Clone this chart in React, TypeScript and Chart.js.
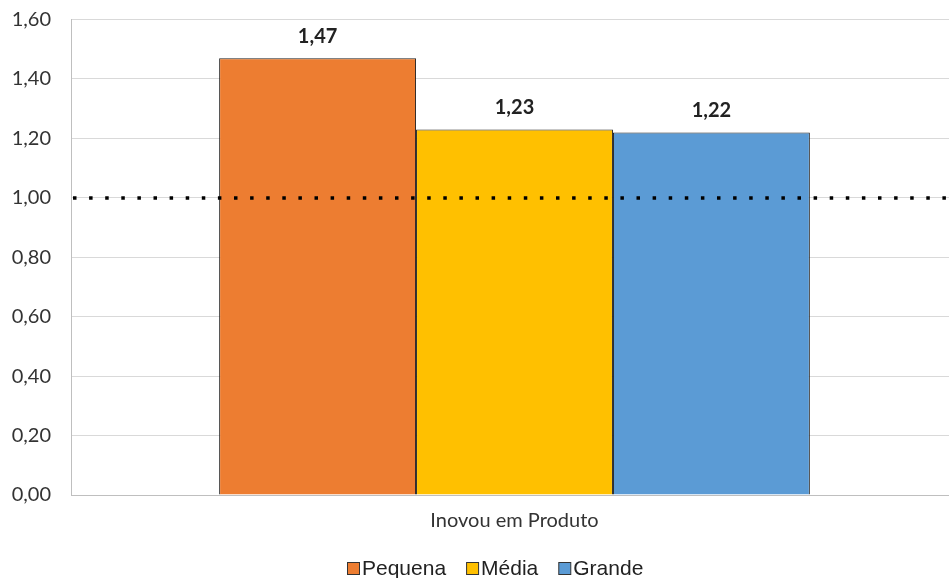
import React, { useEffect, useRef } from "react";
import { Chart, registerables } from "chart.js";

Chart.register(...registerables);

const categories = ["Inovou em Produto"];
const seriesNames = ["Pequena", "Média", "Grande"];
const seriesValues = [[1.47], [1.23], [1.22]];
const seriesColors = ["#ED7D31", "#FFC000", "#5B9BD5"];
const referenceLevel = 1.0;
const yMin = 0;
const yMax = 1.6;
const yStep = 0.2;

const fmt = (v: number) => v.toFixed(2).replace(".", ",");

// Dotted horizontal reference line at 1,00
const referenceLinePlugin = {
  id: "referenceLine",
  afterDatasetsDraw(chart: any) {
    const { ctx, chartArea, scales } = chart;
    const y = Math.round(scales.y.getPixelForValue(referenceLevel));
    ctx.save();
    ctx.strokeStyle = "#000";
    ctx.lineWidth = 3.5;
    ctx.setLineDash([3.5, 12.6]);
    ctx.beginPath();
    ctx.moveTo(chartArea.left + 2, y);
    ctx.lineTo(949, y);
    ctx.stroke();
    ctx.restore();
  },
};

// Bold value labels above each bar
const valueLabelPlugin = {
  id: "valueLabels",
  afterDatasetsDraw(chart: any) {
    const { ctx } = chart;
    ctx.save();
    ctx.font = "bold 20px Lato";
    ctx.fillStyle = "#222";
    ctx.textAlign = "center";
    ctx.textBaseline = "middle";
    chart.data.datasets.forEach((ds: any, i: number) => {
      const meta = chart.getDatasetMeta(i);
      meta.data.forEach((bar: any, j: number) => {
        ctx.fillText(fmt(ds.data[j]), bar.x, bar.y - 22);
      });
    });
    ctx.restore();
  },
};

// Legend row under the category label
const legendPlugin = {
  id: "bottomLegend",
  afterDraw(chart: any) {
    const { ctx } = chart;
    ctx.save();
    ctx.font = "21px 'Liberation Sans'";
    const box = 12;
    const gapText = 3;
    const gapItem = 20;
    const items = chart.data.datasets.map((ds: any) => ({
      label: ds.label,
      color: ds.backgroundColor,
      w: box + gapText + ctx.measureText(ds.label).width,
    }));
    const total =
      items.reduce((s: number, it: any) => s + it.w, 0) + gapItem * (items.length - 1);
    let x = Math.round(495 - total / 2);
    const yc = 568;
    ctx.textBaseline = "middle";
    ctx.textAlign = "left";
    items.forEach((it: any) => {
      ctx.fillStyle = it.color;
      ctx.fillRect(x + 0.5, yc - box / 2 + 0.5, box, box);
      ctx.strokeStyle = "#333";
      ctx.lineWidth = 1;
      ctx.strokeRect(x + 0.5, yc - box / 2 + 0.5, box, box);
      ctx.fillStyle = "#222";
      ctx.fillText(it.label, x + box + gapText, yc + 1);
      x += it.w + gapItem;
    });
    ctx.restore();
  },
};

export default function App() {
  const canvasRef = useRef<HTMLCanvasElement>(null);

  useEffect(() => {
    const canvas = canvasRef.current;
    if (!canvas) return;
    const chart = new Chart(canvas, {
      type: "bar",
      data: {
        labels: categories,
        datasets: seriesNames.map((name, i) => ({
          label: name,
          data: seriesValues[i],
          backgroundColor: seriesColors[i],
          borderColor: "#222",
          borderWidth: 1,
          categoryPercentage: 0.666,
          barPercentage: 1,
        })),
      },
      options: {
        animation: false,
        responsive: false,
        maintainAspectRatio: false,
        layout: { padding: { top: 19.5, right: 0, bottom: 39, left: 0 } },
        plugins: {
          legend: { display: false },
          tooltip: { enabled: false },
        },
        scales: {
          x: {
            grid: { display: false },
            border: { display: true, color: "#bfbfbf", width: 1 },
            ticks: {
              color: "#333",
              font: { family: "Lato", size: 20 },
              padding: 6,
            },
          },
          y: {
            min: yMin,
            max: yMax,
            grid: { color: "#d9d9d9", drawTicks: false, lineWidth: 1 },
            border: { display: true, color: "#bfbfbf", width: 1 },
            ticks: {
              stepSize: yStep,
              color: "#333",
              font: { family: "Lato", size: 20 },
              padding: 20,
              callback: (v: any) => fmt(Number(v)),
            },
            afterFit: (scale: any) => {
              scale.width = 71;
              scale.paddingTop = 0;
              scale.paddingBottom = 0;
            },
          },
        },
      },
      plugins: [referenceLinePlugin, valueLabelPlugin, legendPlugin],
    });
    return () => chart.destroy();
  }, []);

  return (
    <div
      style={{
        position: "fixed",
        left: 0,
        top: 0,
        width: 949,
        height: 578,
        overflow: "hidden",
        background: "#fff",
      }}
    >
      <canvas ref={canvasRef} width={958} height={578} style={{ width: 958, height: 578 }} />
    </div>
  );
}
